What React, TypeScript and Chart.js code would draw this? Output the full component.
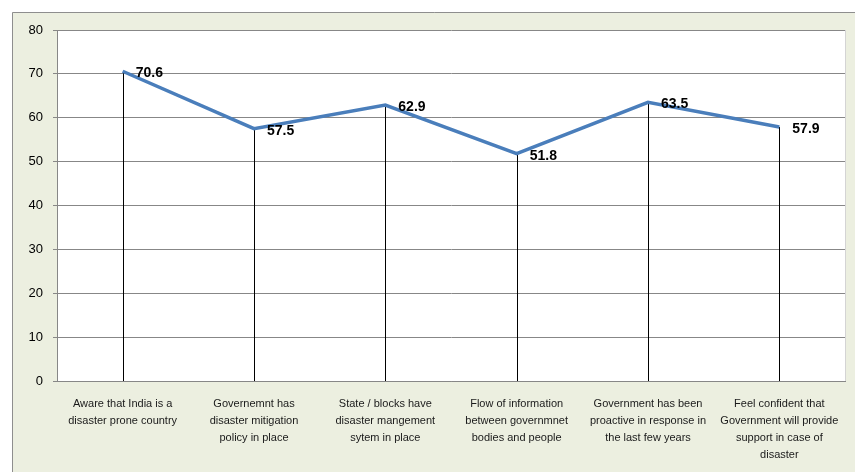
import React, { useEffect, useRef } from "react";
import { Chart, registerables } from "chart.js";

Chart.register(...registerables);

const categories: string[][] = [
  ["Aware that India is a", "disaster prone country"],
  ["Governemnt has", "disaster mitigation", "policy in place"],
  ["State / blocks have", "disaster mangement", "sytem in place"],
  ["Flow of information", "between governmnet", "bodies and people"],
  ["Government has been", "proactive in response in", "the last few years"],
  ["Feel confident that", "Government will provide", "support in case of", "disaster"],
];

const values: number[] = [70.6, 57.5, 62.9, 51.8, 63.5, 57.9];

const yTicks = { min: 0, max: 80, step: 10 };

const FONT = "'Liberation Sans', Arial, sans-serif";

const backgroundPlugin = {
  id: "bgPlugin",
  beforeDraw(chart: any) {
    const { ctx, width, height, chartArea } = chart;
    ctx.save();
    ctx.fillStyle = "#ffffff";
    ctx.fillRect(0, 0, width, height);
    ctx.fillStyle = "#ECEFE0";
    ctx.fillRect(12, 12, width, height);
    ctx.strokeStyle = "#8E8E8E";
    ctx.lineWidth = 1;
    ctx.beginPath();
    ctx.moveTo(12.5, height + 2);
    ctx.lineTo(12.5, 12.5);
    ctx.lineTo(width + 2, 12.5);
    ctx.stroke();
    ctx.fillStyle = "#ffffff";
    ctx.fillRect(chartArea.left, chartArea.top, chartArea.right - chartArea.left, chartArea.bottom - chartArea.top);
    ctx.strokeStyle = "#D4D4D4";
    ctx.beginPath();
    ctx.moveTo(chartArea.right + 0.5, chartArea.top);
    ctx.lineTo(chartArea.right + 0.5, chartArea.bottom);
    ctx.stroke();
    ctx.restore();
  },
};

const dropLinePlugin = {
  id: "dropLines",
  beforeDatasetsDraw(chart: any) {
    const { ctx, chartArea } = chart;
    const meta = chart.getDatasetMeta(0);
    ctx.save();
    ctx.strokeStyle = "#000000";
    ctx.lineWidth = 1;
    meta.data.forEach((pt: any) => {
      const x = Math.round(pt.x) + 0.5;
      ctx.beginPath();
      ctx.moveTo(x, pt.y);
      ctx.lineTo(x, chartArea.bottom);
      ctx.stroke();
    });
    ctx.restore();
  },
};

const labelPlugin = {
  id: "valueLabels",
  afterDatasetsDraw(chart: any) {
    const { ctx } = chart;
    const meta = chart.getDatasetMeta(0);
    const data = chart.data.datasets[0].data as number[];
    ctx.save();
    ctx.fillStyle = "#000000";
    ctx.font = `bold 14px ${FONT}`;
    ctx.textAlign = "left";
    ctx.textBaseline = "middle";
    meta.data.forEach((pt: any, i: number) => {
      ctx.fillText(data[i].toFixed(1), pt.x + 13, pt.y + 2);
    });
    ctx.restore();
  },
};

export default function App() {
  const ref = useRef<HTMLCanvasElement | null>(null);

  useEffect(() => {
    if (!ref.current) return;
    const chart = new Chart(ref.current, {
      type: "line",
      data: {
        labels: categories,
        datasets: [
          {
            data: values,
            borderColor: "#4A7EBB",
            borderWidth: 3.5,
            pointRadius: 0,
            pointHoverRadius: 0,
            tension: 0,
            fill: false,
          },
        ],
      },
      options: {
        responsive: false,
        animation: false,
        layout: { padding: { top: 30, right: 10, left: 0, bottom: 0 } },
        plugins: {
          legend: { display: false },
          tooltip: { enabled: false },
        },
        scales: {
          x: {
            offset: true,
            grid: { display: false },
            border: { display: true, color: "#878787", width: 1 },
            ticks: {
              autoSkip: false,
              maxRotation: 0,
              minRotation: 0,
              padding: 6,
              color: "#1a1a1a",
              font: { family: FONT, size: 11, lineHeight: 17 / 11 },
            },
            afterFit(scale: any) {
              scale.height = 91;
            },
          },
          y: {
            min: yTicks.min,
            max: yTicks.max,
            ticks: {
              stepSize: yTicks.step,
              padding: 10,
              color: "#000000",
              font: { family: FONT, size: 13 },
            },
            grid: { color: "#878787", lineWidth: 1, tickLength: 4, drawTicks: true },
            border: { display: true, color: "#878787", width: 1 },
            afterFit(scale: any) {
              scale.width = 57;
            },
          },
        },
      },
      plugins: [backgroundPlugin, dropLinePlugin, labelPlugin],
    });
    return () => chart.destroy();
  }, []);

  return (
    <div style={{ position: "absolute", left: 0, top: 0, width: 855, height: 472 }}>
      <canvas ref={ref} width={855} height={472} style={{ display: "block" }} />
    </div>
  );
}
